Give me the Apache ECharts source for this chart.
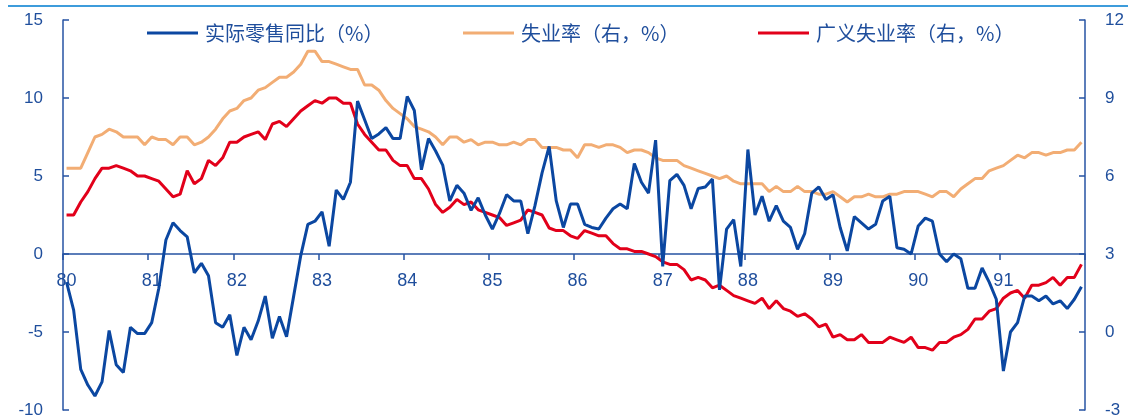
<!DOCTYPE html>
<html>
<head>
<meta charset="utf-8">
<script src="https://cdn.jsdelivr.net/npm/echarts@6/dist/echarts.min.js"></script>
<style>
html,body{margin:0;padding:0;background:#fff;}
#chart{width:1128px;height:419px;}
</style>
</head>
<body>
<div id="chart"></div>
<script>
// Year tick labels (one per January)
const yearLabels = ['80','81','82','83','84','85','86','87','88','89','90','91'];
const monthLabels = ['01','02','03','04','05','06','07','08','09','10','11','12'];

// 实际零售同比（%） — left axis
const retailYoY = [
  -1.8,-3.6,-7.4,-8.4,-9.1,-8.2,-4.9,-7.1,-7.6,-4.7,-5.1,-5.1,
  -4.4,-2.2,0.9,2.0,1.5,1.1,-1.2,-0.6,-1.4,-4.4,-4.7,-3.9,
  -6.5,-4.7,-5.5,-4.3,-2.7,-5.4,-4.0,-5.3,-2.7,-0.1,1.9,2.1,
  2.7,0.5,4.1,3.5,4.6,9.8,8.6,7.4,7.7,8.1,7.4,7.4,
  10.1,9.2,5.4,7.4,6.6,5.7,3.4,4.4,3.9,2.8,3.6,2.5,
  1.6,2.6,3.8,3.4,3.4,1.3,3.1,5.2,6.9,3.4,1.7,3.2,
  3.2,1.9,1.7,1.6,2.3,2.9,3.2,2.9,5.8,4.6,3.9,7.3,
  -0.8,4.7,5.1,4.4,2.9,4.2,4.3,4.8,-2.3,1.6,2.2,-0.8,
  6.7,2.5,3.7,2.1,3.1,2.1,1.7,0.3,1.3,3.9,4.3,3.5,
  3.8,1.7,0.2,2.4,2.0,1.6,1.9,3.4,3.7,0.4,0.3,0.0,
  1.8,2.3,2.1,0.0,-0.5,0.0,-0.3,-2.2,-2.2,-0.9,-1.8,-2.9,
  -7.5,-5.0,-4.4,-2.7,-2.7,-3.0,-2.7,-3.2,-3.0,-3.5,-2.9,-2.1
];

// 失业率（右，%） — right axis
const unemployment = [
  6.3,6.3,6.3,6.9,7.5,7.6,7.8,7.7,7.5,7.5,7.5,7.2,
  7.5,7.4,7.4,7.2,7.5,7.5,7.2,7.3,7.5,7.8,8.2,8.5,
  8.6,8.9,9.0,9.3,9.4,9.6,9.8,9.8,10.0,10.3,10.8,10.8,
  10.4,10.4,10.3,10.2,10.1,10.1,9.5,9.5,9.3,8.9,8.6,8.4,
  8.2,7.9,7.8,7.7,7.5,7.2,7.5,7.5,7.3,7.4,7.2,7.3,
  7.3,7.2,7.2,7.3,7.2,7.4,7.4,7.1,7.1,7.1,7.0,7.0,
  6.7,7.2,7.2,7.1,7.2,7.2,7.1,6.9,7.0,7.0,6.9,6.7,
  6.6,6.6,6.6,6.4,6.3,6.2,6.1,6.0,5.9,6.0,5.8,5.7,
  5.7,5.7,5.7,5.4,5.6,5.4,5.4,5.6,5.4,5.4,5.3,5.3,
  5.4,5.2,5.0,5.2,5.2,5.3,5.2,5.2,5.3,5.3,5.4,5.4,
  5.4,5.3,5.2,5.4,5.4,5.2,5.5,5.7,5.9,5.9,6.2,6.3,
  6.4,6.6,6.8,6.7,6.9,6.9,6.8,6.9,6.9,7.0,7.0,7.3
];

// 广义失业率（右，%） — right axis
const broadUnemployment = [
  4.5,4.5,5.0,5.4,5.9,6.3,6.3,6.4,6.3,6.2,6.0,6.0,
  5.9,5.8,5.5,5.2,5.3,6.2,5.7,5.9,6.6,6.4,6.7,7.3,
  7.3,7.5,7.6,7.7,7.4,8.0,8.1,7.9,8.2,8.5,8.7,8.9,
  8.8,9.0,9.0,8.8,8.8,8.0,7.6,7.3,7.0,7.0,6.6,6.4,
  6.4,5.9,5.9,5.5,4.9,4.6,4.8,5.1,4.9,5.0,4.7,4.6,
  4.5,4.4,4.1,4.2,4.3,4.7,4.6,4.5,4.0,3.9,3.9,3.7,
  3.6,3.9,3.8,3.7,3.7,3.4,3.2,3.2,3.1,3.1,3.0,2.9,
  2.7,2.6,2.6,2.4,2.0,2.1,2.0,1.7,1.8,1.6,1.4,1.3,
  1.2,1.1,1.3,0.9,1.2,0.9,0.8,0.6,0.7,0.5,0.2,0.3,
  -0.2,-0.1,-0.3,-0.3,-0.1,-0.4,-0.4,-0.4,-0.2,-0.3,-0.4,-0.2,
  -0.6,-0.6,-0.7,-0.4,-0.4,-0.2,-0.1,0.1,0.5,0.5,0.8,0.9,
  1.3,1.5,1.6,1.3,1.8,1.8,1.9,2.1,1.8,2.1,2.1,2.6
];

const seriesNames = ['实际零售同比（%）','失业率（右，%）','广义失业率（右，%）'];

const categories = [];
yearLabels.forEach(y => monthLabels.forEach(m => categories.push(y + '-' + m)));

const C_BLUE = '#0B47A1';
const C_ORANGE = '#F2AD74';
const C_RED = '#E2001A';
const C_TEXT = '#1F4E9C';
const C_AXIS = '#2653A3';
const NUM_FONT = 'Liberation Sans';
const CJK_FONT = 'Noto Sans CJK SC';

const GRID_TOP = 20, GRID_BOTTOM = 9, GRID_H = 419 - GRID_TOP - GRID_BOTTOM;
const LEFT_MIN = -10, LEFT_MAX = 15;
// distance from grid bottom to the left axis zero, derived from the axis range
const zeroOffset = GRID_H * (0 - LEFT_MIN) / (LEFT_MAX - LEFT_MIN);

const chart = echarts.init(document.getElementById('chart'), null, {renderer:'canvas'});

function legendAt(left, name) {
  return {
    left: left, top: 23, padding: 0,
    data: [name],
    icon: 'rect', itemWidth: 51, itemHeight: 3,
    selectedMode: false,
    textStyle: {fontSize: 20, color: C_TEXT, fontFamily: CJK_FONT, padding: [0,0,0,2]}
  };
}

chart.setOption({
  animation: false,
  backgroundColor: '#fff',
  graphic: [{
    type: 'rect', silent: true, z: 100,
    shape: {x: 8, y: 5, width: 1120, height: 2},
    style: {fill: '#3D9CDB'}
  }],
  legend: [
    legendAt(147, seriesNames[0]),
    legendAt(463, seriesNames[1]),
    legendAt(758, seriesNames[2])
  ],
  grid: {left: 63, right: 43, top: GRID_TOP, bottom: GRID_BOTTOM, containLabel: false, outerBoundsMode: 'none'},
  xAxis: {
    type: 'category',
    data: categories,
    boundaryGap: true,
    position: 'bottom',
    offset: -zeroOffset,
    axisLine: {show: true, onZero: false, lineStyle: {color: C_AXIS, width: 1.5}},
    axisTick: {show: true, inside: false, length: 6, interval: (i) => i % 12 === 0, lineStyle: {color: C_AXIS, width: 1.5}},
    axisLabel: {
      interval: (i) => i % 12 === 0,
      formatter: (v) => v.split('-')[0],
      margin: 18, fontSize: 18, color: C_TEXT, fontFamily: NUM_FONT
    },
    splitLine: {show: false}
  },
  yAxis: [{
    type: 'value', min: LEFT_MIN, max: LEFT_MAX, interval: 5,
    axisLine: {show: true, lineStyle: {color: C_AXIS, width: 1.5}},
    axisTick: {show: true, inside: true, length: 6, lineStyle: {color: C_AXIS, width: 1.5}},
    axisLabel: {margin: 20, fontSize: 17, color: C_TEXT, fontFamily: NUM_FONT},
    splitLine: {show: false}
  }, {
    type: 'value', min: -3, max: 12, interval: 3,
    axisLine: {show: true, lineStyle: {color: C_AXIS, width: 1.5}},
    axisTick: {show: true, inside: true, length: 6, lineStyle: {color: C_AXIS, width: 1.5}},
    axisLabel: {margin: 20, fontSize: 17, color: C_TEXT, fontFamily: NUM_FONT},
    splitLine: {show: false}
  }],
  series: [{
    name: seriesNames[1], type: 'line', yAxisIndex: 1, data: unemployment,
    showSymbol: false, symbol: 'none', color: C_ORANGE,
    lineStyle: {width: 3, color: C_ORANGE}
  }, {
    name: seriesNames[2], type: 'line', yAxisIndex: 1, data: broadUnemployment,
    showSymbol: false, symbol: 'none', color: C_RED,
    lineStyle: {width: 3, color: C_RED}
  }, {
    name: seriesNames[0], type: 'line', yAxisIndex: 0, data: retailYoY,
    showSymbol: false, symbol: 'none', color: C_BLUE,
    lineStyle: {width: 3, color: C_BLUE}
  }]
});
</script>
</body>
</html>
